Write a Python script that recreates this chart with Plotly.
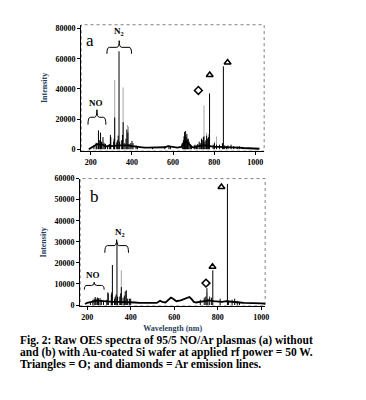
import plotly.graph_objects as go

# ---- panel (a): without Au-coated wafer ----
a_peak_wl_black = [215, 226, 230, 237, 241, 247, 252, 259, 265, 271, 281,
                   290, 295, 297, 311, 313, 316, 326, 329, 333, 337, 340, 350, 354, 357,
                   365, 371, 375, 380, 386, 394, 400, 405, 420, 427,
                   500, 560, 580, 587,
                   645, 650, 653, 656, 658, 661, 664, 667, 670, 674, 678, 684, 690,
                   703, 707, 714, 720, 727, 732, 738, 742, 747, 750, 755, 760, 763, 768, 772,
                   777.4, 795, 801, 811, 826, 840, 844.6, 851, 860, 867, 882, 895, 912, 922, 940, 966]
a_peak_int_black = [2500, 4000, 3000, 12500, 6000, 11000, 5000, 8000, 4000, 3500, 2500,
                    3500, 9500, 8000, 5000, 7000, 21000, 4500, 6000, 9000, 65000, 5000, 6000, 9500, 18000,
                    4000, 7000, 13000, 11000, 3500, 4000, 5500, 4000, 2500, 2000,
                    1500, 2000, 2500, 2000,
                    4000, 6000, 8500, 11500, 9000, 12000, 8000, 10000, 6500, 7000, 5000, 3500, 2500,
                    2500, 3000, 2500, 3500, 5000, 4000, 7000, 6000, 8000, 8500, 5000, 6000, 9000, 7000, 8000,
                    37000, 3000, 4000, 3000, 3000, 4000, 55000, 2500, 2000, 2500, 3000, 2000, 1500, 2000, 1500, 1000]
a_peak_wl_grey = [226, 237, 247, 259, 316, 357, 378, 383, 750.4, 763, 772, 801, 811.5, 912]
a_peak_int_grey = [4500, 10000, 9000, 5000, 46000, 41000, 16000, 15000, 29000, 11000, 10000, 5000, 8500, 2000]
a_base_wl = [190, 200, 210, 220, 230, 240, 250, 260, 270, 280, 290, 300, 320, 340, 360, 380, 400,
             420, 440, 460, 480, 500, 520, 540, 560, 575, 585, 600, 620, 640, 650, 660, 670, 680,
             690, 700, 720, 740, 760, 780, 800, 820, 840, 860, 880, 900, 920, 940, 960, 980, 1000, 1020]
a_base_int = [0, 700, 1500, 2500, 3500, 3000, 3500, 2500, 2000, 1800, 2500, 2000, 2500, 2500, 2500, 2500, 2000,
              1500, 1200, 1000, 1000, 1200, 1000, 1200, 1300, 2000, 1800, 1200, 1000, 1500, 4000, 5000, 4500, 3000,
              1500, 1200, 1800, 2500, 2500, 2000, 1500, 1500, 1500, 1200, 1200, 1000, 1000, 800, 800, 600, 500, 300]

# ---- panel (b): with Au-coated Si wafer ----
b_peak_wl_black = [215, 226, 232, 237, 241, 247, 252, 259, 265, 275,
                   290, 295, 297, 311, 313, 316, 326, 329, 333, 337, 340, 350, 354, 357,
                   365, 371, 375, 380, 386, 394, 400,
                   720, 738, 745, 750.4, 755, 763, 772, 777.4, 811, 844.6, 850, 866, 878, 890, 900]
b_peak_int_black = [1500, 2500, 3000, 3800, 3000, 3600, 3200, 3300, 2500, 2000,
                    2500, 6000, 5500, 5000, 6000, 19000, 3000, 4000, 5000, 30000, 4000, 4000, 5500, 8500,
                    3500, 4500, 6500, 7000, 3000, 3000, 3000,
                    2500, 3500, 4000, 8000, 3000, 4000, 3500, 16500, 3000, 57500, 2000, 2500, 3000, 2000, 1500]
b_peak_wl_grey = [357, 750.4]
b_peak_int_grey = [16500, 6000]
b_base_wl = [190, 200, 220, 240, 260, 280, 300, 320, 340, 360, 380, 400, 420, 440, 460, 480, 500, 520,
             535, 545, 560, 575, 585, 595, 610, 630, 650, 660, 670, 680, 690, 700, 720, 740, 760, 780,
             800, 820, 840, 860, 880, 900, 920, 940, 960, 980, 1000, 1020]
b_base_int = [500, 1000, 1500, 2000, 2000, 1800, 1500, 1500, 1500, 1500, 1500, 1500, 1200, 1000, 1000, 800, 900, 1000,
              2000, 1500, 1200, 2800, 3500, 3000, 1800, 2200, 3200, 3600, 3800, 2800, 1500, 1200, 1500, 2000, 2200, 1800,
              1500, 1500, 1800, 1500, 1500, 1200, 1000, 1000, 900, 800, 800, 600]

# emission-line symbols (wavelength, intensity where the symbol sits)
a_tri_wl = [778, 865]
a_tri_int = [49200, 57500]
a_dia_wl = [723]
a_dia_int = [39000]
b_tri_wl = [776, 817]
b_tri_int = [18200, 56000]
b_dia_wl = [746]
b_dia_int = [10400]

SERIF = "Liberation Serif"
BLACK = "#000000"
GREY = "#a6a6a6"


def sticks(wl, inten):
    xs, ys = [], []
    for w, h in zip(wl, inten):
        xs += [w, w, None]
        ys += [0, h, None]
    return xs, ys


def brace_path(x0, x1, y_end, y_mid, y_tip, xscale):
    xm = (x0 + x1) / 2
    d = xscale
    return (f"M {x0},{y_end} Q {x0},{y_mid} {x0 + d},{y_mid} L {xm - d},{y_mid} "
            f"Q {xm},{y_mid} {xm},{y_tip} Q {xm},{y_mid} {xm + d},{y_mid} "
            f"L {x1 - d},{y_mid} Q {x1},{y_mid} {x1},{y_end}")


fig = go.Figure()

panels = [
    ("x", "y", a_peak_wl_grey, a_peak_int_grey, a_peak_wl_black, a_peak_int_black,
     a_base_wl, a_base_int, a_tri_wl, a_tri_int, a_dia_wl, a_dia_int),
    ("x2", "y2", b_peak_wl_grey, b_peak_int_grey, b_peak_wl_black, b_peak_int_black,
     b_base_wl, b_base_int, b_tri_wl, b_tri_int, b_dia_wl, b_dia_int),
]
for xa, ya, gw, gi, bw, bi, sw, si, tw, ti, dw, di in panels:
    gx, gy = sticks(gw, gi)
    fig.add_trace(go.Scatter(x=gx, y=gy, mode="lines", line=dict(color=GREY, width=1),
                             xaxis=xa, yaxis=ya, showlegend=False, hoverinfo="skip"))
    kx, ky = sticks(bw, bi)
    fig.add_trace(go.Scatter(x=kx, y=ky, mode="lines", line=dict(color=BLACK, width=1),
                             xaxis=xa, yaxis=ya, showlegend=False, hoverinfo="skip"))
    fig.add_trace(go.Scatter(x=sw, y=si, mode="lines", line=dict(color=BLACK, width=1.8),
                             xaxis=xa, yaxis=ya, showlegend=False, hoverinfo="skip"))
    fig.add_trace(go.Scatter(x=tw, y=ti, mode="markers", xaxis=xa, yaxis=ya, showlegend=False,
                             marker=dict(symbol="triangle-up-open", size=6, color=BLACK,
                                         line=dict(width=1.5, color=BLACK))))
    fig.add_trace(go.Scatter(x=dw, y=di, mode="markers", xaxis=xa, yaxis=ya, showlegend=False,
                             marker=dict(symbol="diamond-open", size=6, color=BLACK,
                                         line=dict(width=1.5, color=BLACK))))

axis_common = dict(showline=True, linecolor=BLACK, linewidth=1, ticks="outside", ticklen=3,
                   tickcolor=BLACK, showgrid=False, zeroline=False, tickformat="d",
                   tickfont=dict(family=SERIF, size=8, color=BLACK, weight="bold"))

fig.update_layout(
    width=366, height=400,
    margin=dict(l=0, r=0, t=0, b=0),
    paper_bgcolor="white", plot_bgcolor="white",
    showlegend=False,
    xaxis=dict(domain=[74 / 366, 259 / 366], range=[153, 1043], tickvals=[200, 400, 600, 800, 1000],
               anchor="y", **axis_common),
    yaxis=dict(domain=[1 - 142 / 400, 1 - 13 / 400], range=[-1300, 82600],
               tickvals=[0, 20000, 40000, 60000, 80000], anchor="x",
               title=dict(text="Intensity", font=dict(family=SERIF, size=8, weight="bold"), standoff=6),
               **axis_common),
    xaxis2=dict(domain=[73 / 366, 260 / 366], range=[168, 1018], tickvals=[200, 400, 600, 800, 1000],
                anchor="y2",
                title=dict(text="Wavelength (nm)", font=dict(family=SERIF, size=8, weight="bold"), standoff=4),
                **axis_common),
    yaxis2=dict(domain=[1 - 300 / 400, 1 - 170 / 400], range=[-465, 60000],
                tickvals=[0, 10000, 20000, 30000, 40000, 50000, 60000], anchor="x2",
                title=dict(text="Intensity", font=dict(family=SERIF, size=8, weight="bold"), standoff=6),
                **axis_common),
)

# dotted plot-area frames
for xr, yr in [("x domain", "y domain"), ("x2 domain", "y2 domain")]:
    fig.add_shape(type="rect", xref=xr, yref=yr, x0=0, x1=1, y0=0, y1=1,
                  line=dict(color="#808080", width=1, dash="dot"), layer="below")

# braces over the band systems
brace_style = dict(type="path", line=dict(color=BLACK, width=1))
fig.add_shape(path=brace_path(278, 398, 63300, 67600, 72000, 12), xref="x", yref="y", **brace_style)
fig.add_shape(path=brace_path(186, 273, 16300, 21200, 26200, 12), xref="x", yref="y", **brace_style)
fig.add_shape(path=brace_path(281, 390, 24800, 28200, 31000, 12), xref="x2", yref="y2", **brace_style)
fig.add_shape(path=brace_path(187, 278, 7300, 9300, 10800, 12), xref="x2", yref="y2", **brace_style)

label_font = dict(family=SERIF, size=9, color=BLACK, weight="bold")
letter_font = dict(family=SERIF, size=17, color=BLACK)
fig.add_annotation(x=339, y=78000, xref="x", yref="y", text="N<sub>2</sub>", showarrow=False, font=label_font)
fig.add_annotation(x=226, y=30700, xref="x", yref="y", text="NO", showarrow=False, font=label_font)
fig.add_annotation(x=198, y=72000, xref="x", yref="y", text="a", showarrow=False, font=letter_font)
fig.add_annotation(x=352, y=34500, xref="x2", yref="y2", text="N<sub>2</sub>", showarrow=False, font=label_font)
fig.add_annotation(x=228, y=14300, xref="x2", yref="y2", text="NO", showarrow=False, font=label_font)
fig.add_annotation(x=234, y=51500, xref="x2", yref="y2", text="b", showarrow=False, font=letter_font)

caption = [
    "Fig. 2: Raw OES spectra of 95/5 NO/Ar plasmas (a) without",
    "and (b) with Au-coated Si wafer at applied rf power = 50 W.",
    "Triangles = O; and diamonds = Ar emission lines.",
]
for i, line in enumerate(caption):
    fig.add_annotation(x=10 / 366, y=1 - (335 + 12.5 * i) / 400, xref="paper", yref="paper",
                       xanchor="left", yanchor="middle", text=line, showarrow=False,
                       font=dict(family=SERIF, size=11.5, color=BLACK, weight="bold"))

fig.write_html("out.html")
